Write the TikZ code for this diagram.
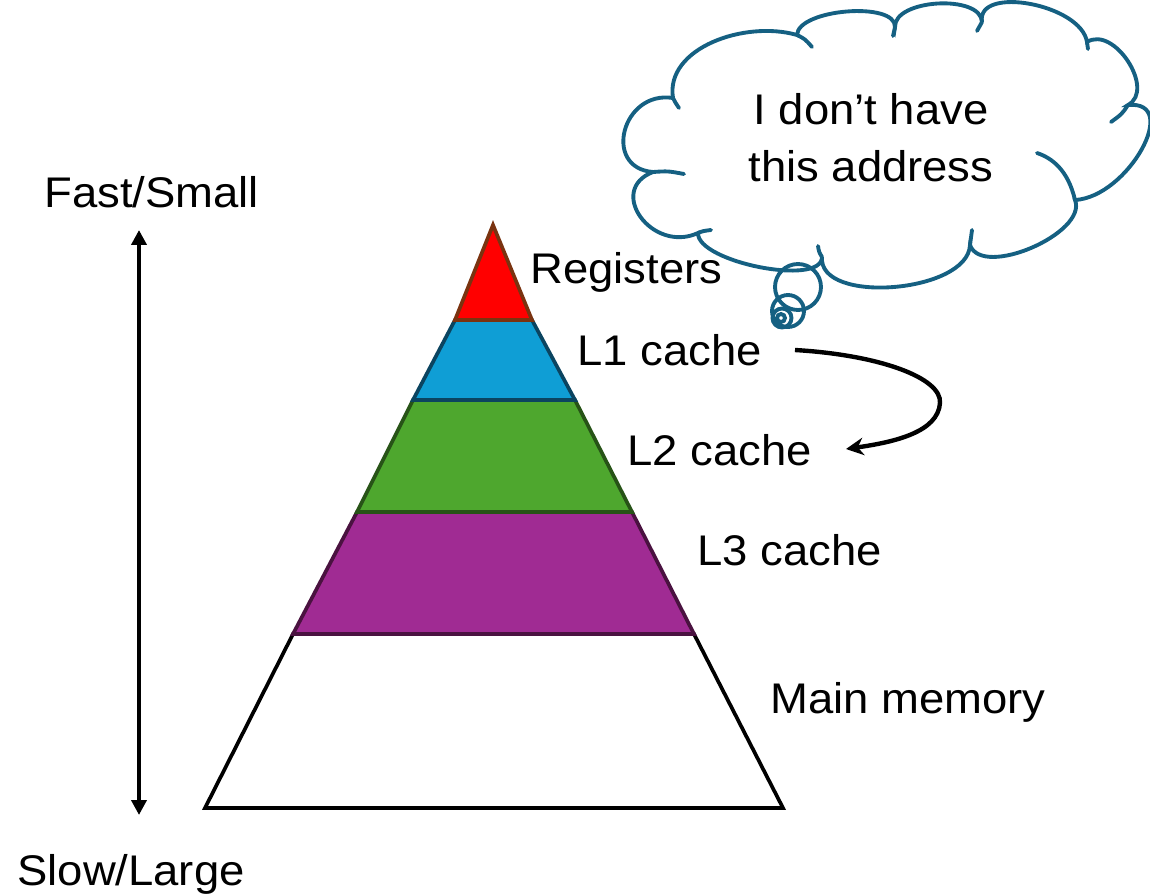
\documentclass[tikz,border=0pt]{standalone}
\usepackage{fontspec}
\setmainfont[FakeStretch=1.06]{Liberation Sans}
\usetikzlibrary{arrows.meta}
\definecolor{cloudc}{HTML}{156082}
\definecolor{redf}{HTML}{FF0000}\definecolor{redb}{HTML}{7A3310}
\definecolor{bluef}{HTML}{0F9ED5}\definecolor{blueb}{HTML}{0B4460}
\definecolor{greenf}{HTML}{4EA72E}\definecolor{greenb}{HTML}{275317}
\definecolor{purf}{HTML}{A02B93}\definecolor{purb}{HTML}{4A1240}
\tikzset{
  layer/.style={line width=2.1pt, line join=miter},
  lbl/.style={inner sep=0pt, font=\fontsize{24.4pt}{32.3pt}\selectfont, text=black},
  cloudline/.style={draw=cloudc, line width=2.2pt, line cap=round},
  vline/.style={line width=2.4pt, {Triangle[length=8.5pt,width=8.5pt]}-{Triangle[length=8.5pt,width=8.5pt]}},
  carrow/.style={line width=2.5pt, -{Stealth[length=10pt,width=10pt]}}
}
\begin{document}
\begin{tikzpicture}[x=0.02cm, y=-0.02cm]
\useasboundingbox (0,0) rectangle (1150,896);
% pyramid layers
\draw[layer, fill=white, draw=black] (293,634) -- (694,634) -- (783,808) -- (205,808) -- cycle;
\draw[layer, fill=purf, draw=purb] (357,512) -- (632,512) -- (694,634) -- (293,634) -- cycle;
\draw[layer, fill=greenf, draw=greenb] (413,400) -- (575,400) -- (632,512) -- (357,512) -- cycle;
\draw[layer, fill=bluef, draw=blueb] (455,320) -- (532,320) -- (575,400) -- (413,400) -- cycle;
\draw[layer, fill=redf, draw=redb] (493,225) -- (532,320) -- (455,320) -- cycle;
% labels
\node[lbl, anchor=base west] (reg) at (530,283) {Registers};
\node[lbl, anchor=base west] (l1) at (577,365) {L1 cache};
\node[lbl, anchor=base west] (l2) at (627,465) {L2 cache};
\node[lbl, anchor=base west] (l3) at (697,565) {L3 cache};
\node[lbl, anchor=base west] (mm) at (770,713) {Main memory};
\node[lbl, anchor=base west] (fast) at (44,207) {Fast/Small};
\node[lbl, anchor=base west] (slow) at (17,885) {Slow/Large};
% vertical arrow
\coordinate (vt) at (139,230);
\coordinate (vb) at (139,815);
\draw[vline] (vb) -- (vt);
% curved arrow L1 -> L2
\coordinate (a1) at (795,350);
\coordinate (a2) at (846,449);
\draw[carrow] (a1) .. controls (880,355) and (942,378) .. (940,403) .. controls (938,432) and (895,442) .. (a2);
% cloud
\draw[cloudline] (673,98) .. controls (622,90) and (602,168) .. (653,172)
 .. controls (606,190) and (652,254) .. (698,233)
 .. controls (697,262) and (822,287) .. (822,257)
 .. controls (818,305) and (968,293) .. (970,245)
 .. controls (982,279) and (1088,233) .. (1075,200)
 .. controls (1128,197) and (1182,100) .. (1128,105)
 .. controls (1156,90) and (1114,25) .. (1087,42)
 .. controls (1081,4) and (976,-15) .. (982,22)
 .. controls (981,-6) and (894,-1) .. (895,27)
 .. controls (896,1) and (798,9) .. (797,35)
 .. controls (745,20) and (665,48) .. (673,98) -- cycle;
\draw[cloudline] (673,98) .. controls (675,102) .. (679,108);
\draw[cloudline] (653,172) .. controls (668,171) .. (684,174);
\draw[cloudline] (698,233) .. controls (703,231) .. (711,230);
\draw[cloudline] (822,257) .. controls (819,252) .. (818,246);
\draw[cloudline] (970,245) .. controls (971,238) .. (972,230);
\draw[cloudline] (1075,200) .. controls (1068,170) and (1052,158) .. (1037,153);
\draw[cloudline] (1128,105) .. controls (1122,114) .. (1111,122);
\draw[cloudline] (1087,42) .. controls (1088,45) .. (1088,49);
\draw[cloudline] (982,22) .. controls (979,26) .. (977,31);
\draw[cloudline] (895,27) .. controls (894,31) .. (893,36);
\draw[cloudline] (797,35) .. controls (805,39) .. (812,47);
% thought bubbles
\draw[cloudline] (798,287) circle[radius=0.46cm];
\draw[cloudline] (788,311) circle[radius=0.32cm];
\draw[cloudline] (782,318) circle[radius=0.19cm];
\draw[cloudline] (781,318) circle[radius=0.08cm];
% thought text
\node[lbl, align=center] (msg) at (871,138) {I don’t have\\this address};
\end{tikzpicture}
\end{document}
